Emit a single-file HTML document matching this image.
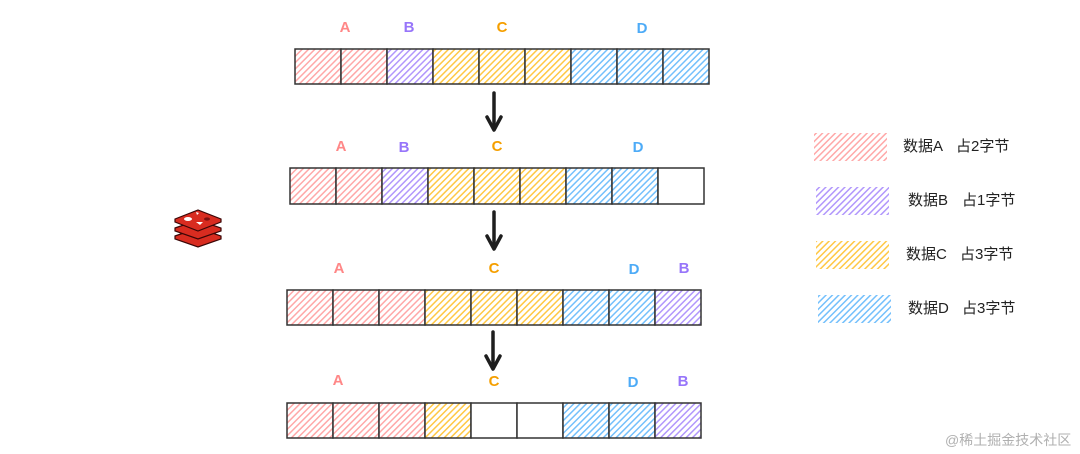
<!DOCTYPE html>
<html><head><meta charset="utf-8"><style>
html,body{margin:0;padding:0;background:#fff;}
svg{display:block}
text{font-family:"Liberation Sans","Noto Sans CJK SC",sans-serif;}
</style></head><body>
<svg width="1080" height="454" viewBox="0 0 1080 454" xmlns="http://www.w3.org/2000/svg">
<defs>
<pattern id="pk" width="4.5" height="4.5" patternUnits="userSpaceOnUse" patternTransform="rotate(45)"><rect width="5" height="5" fill="#fff"/><rect width="1.5" height="5" fill="#ffa8a8"/></pattern>
<pattern id="pu" width="4.5" height="4.5" patternUnits="userSpaceOnUse" patternTransform="rotate(45)"><rect width="5" height="5" fill="#fff"/><rect width="1.5" height="5" fill="#b197fc"/></pattern>
<pattern id="ye" width="4.5" height="4.5" patternUnits="userSpaceOnUse" patternTransform="rotate(45)"><rect width="5" height="5" fill="#fff"/><rect width="1.5" height="5" fill="#ffc845"/></pattern>
<pattern id="bl" width="4.5" height="4.5" patternUnits="userSpaceOnUse" patternTransform="rotate(45)"><rect width="5" height="5" fill="#fff"/><rect width="1.5" height="5" fill="#74c0fc"/></pattern>
<g id="ar"><line x1="0" y1="0" x2="0" y2="36" stroke="#1e1e1e" stroke-width="3.5" stroke-linecap="round"/><path d="M-7 24 L0 37 L7 24" fill="none" stroke="#1e1e1e" stroke-width="3.5" stroke-linecap="round" stroke-linejoin="round"/></g>
</defs>
<g stroke="#333" stroke-width="1.5">
<g transform="translate(295,49)">
<rect x="0" width="46" height="35" fill="url(#pk)"/><rect x="46" width="46" height="35" fill="url(#pk)"/><rect x="92" width="46" height="35" fill="url(#pu)"/><rect x="138" width="46" height="35" fill="url(#ye)"/><rect x="184" width="46" height="35" fill="url(#ye)"/><rect x="230" width="46" height="35" fill="url(#ye)"/><rect x="276" width="46" height="35" fill="url(#bl)"/><rect x="322" width="46" height="35" fill="url(#bl)"/><rect x="368" width="46" height="35" fill="url(#bl)"/>
</g>
<g transform="translate(290,168)">
<rect x="0" width="46" height="36" fill="url(#pk)"/><rect x="46" width="46" height="36" fill="url(#pk)"/><rect x="92" width="46" height="36" fill="url(#pu)"/><rect x="138" width="46" height="36" fill="url(#ye)"/><rect x="184" width="46" height="36" fill="url(#ye)"/><rect x="230" width="46" height="36" fill="url(#ye)"/><rect x="276" width="46" height="36" fill="url(#bl)"/><rect x="322" width="46" height="36" fill="url(#bl)"/><rect x="368" width="46" height="36" fill="#fff"/>
</g>
<g transform="translate(287,290)">
<rect x="0" width="46" height="35" fill="url(#pk)"/><rect x="46" width="46" height="35" fill="url(#pk)"/><rect x="92" width="46" height="35" fill="url(#pk)"/><rect x="138" width="46" height="35" fill="url(#ye)"/><rect x="184" width="46" height="35" fill="url(#ye)"/><rect x="230" width="46" height="35" fill="url(#ye)"/><rect x="276" width="46" height="35" fill="url(#bl)"/><rect x="322" width="46" height="35" fill="url(#bl)"/><rect x="368" width="46" height="35" fill="url(#pu)"/>
</g>
<g transform="translate(287,403)">
<rect x="0" width="46" height="35" fill="url(#pk)"/><rect x="46" width="46" height="35" fill="url(#pk)"/><rect x="92" width="46" height="35" fill="url(#pk)"/><rect x="138" width="46" height="35" fill="url(#ye)"/><rect x="184" width="46" height="35" fill="#fff"/><rect x="230" width="46" height="35" fill="#fff"/><rect x="276" width="46" height="35" fill="url(#bl)"/><rect x="322" width="46" height="35" fill="url(#bl)"/><rect x="368" width="46" height="35" fill="url(#pu)"/>
</g>
</g>
<use href="#ar" x="494" y="93"/>
<use href="#ar" x="494" y="212"/>
<use href="#ar" x="493" y="332"/>
<g font-size="15" font-weight="bold" text-anchor="middle">
<text x="345" y="32" fill="#ff8787">A</text><text x="409" y="32" fill="#9775fa">B</text><text x="502" y="32" fill="#f59f00">C</text><text x="642" y="33" fill="#4dabf7">D</text>
<text x="341" y="151" fill="#ff8787">A</text><text x="404" y="152" fill="#9775fa">B</text><text x="497" y="151" fill="#f59f00">C</text><text x="638" y="152" fill="#4dabf7">D</text>
<text x="339" y="273" fill="#ff8787">A</text><text x="494" y="273" fill="#f59f00">C</text><text x="634" y="274" fill="#4dabf7">D</text><text x="684" y="273" fill="#9775fa">B</text>
<text x="338" y="385" fill="#ff8787">A</text><text x="494" y="386" fill="#f59f00">C</text><text x="633" y="387" fill="#4dabf7">D</text><text x="683" y="386" fill="#9775fa">B</text>
</g>
<rect x="814" y="133" width="73" height="28" fill="url(#pk)"/>
<rect x="816" y="187" width="73" height="28" fill="url(#pu)"/>
<rect x="816" y="241" width="73" height="28" fill="url(#ye)"/>
<rect x="818" y="295" width="73" height="28" fill="url(#bl)"/>
<g font-size="15" fill="#222">
<text x="903" y="151">数据A</text><text x="956" y="151">占2字节</text>
<text x="908" y="205">数据B</text><text x="962" y="205">占1字节</text>
<text x="906" y="259">数据C</text><text x="960" y="259">占3字节</text>
<text x="908" y="313">数据D</text><text x="962" y="313">占3字节</text>
</g>
<g stroke="#3a0606" stroke-width="1.2" fill="#d82c20">
<path d="M175 236 L198 228 L221 236 L221 239 L198 247 L175 239 Z"/>
<path d="M175 228 L198 220 L221 228 L221 231 L198 239 L175 231 Z"/>
<path d="M175 219 L198 210 L221 219 L221 222 L198 231 L175 222 Z"/>
</g>
<ellipse cx="188" cy="219" rx="4" ry="2" fill="#fff"/>
<ellipse cx="207" cy="219" rx="3" ry="1.6" fill="#7a1010"/>
<path d="M196 222 L203 222 L200 225 Z" fill="#fff"/>
<path d="M196 212 l3 1 l-2 2 z" fill="#fff"/>
<text x="945" y="445" font-size="14" fill="#b0b0b0">@稀土掘金技术社区</text>
</svg>
</body></html>
